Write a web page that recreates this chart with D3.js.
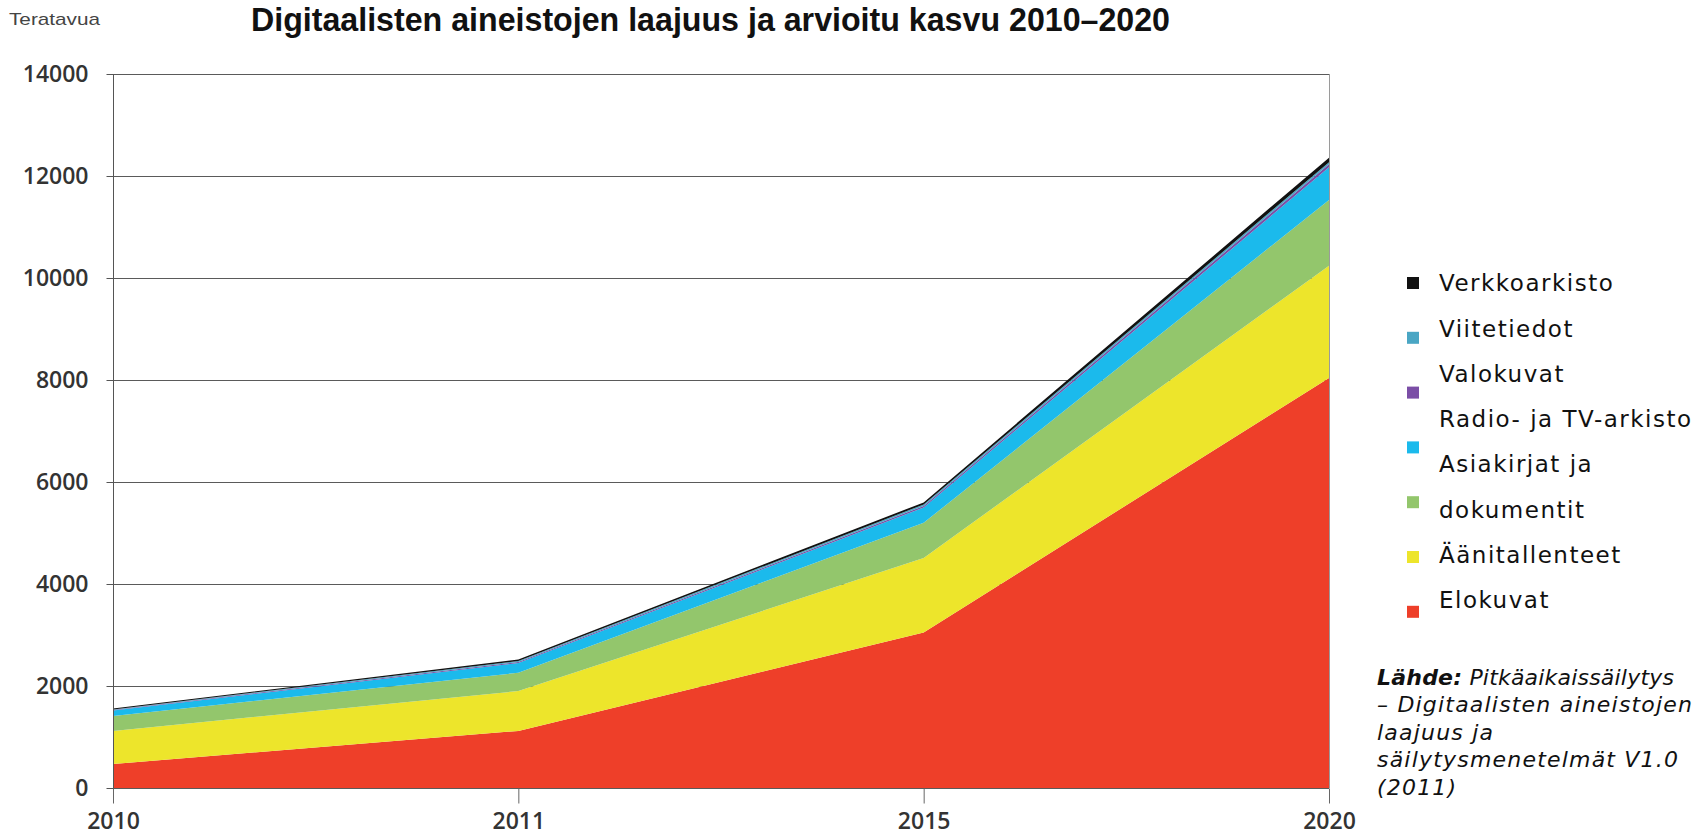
<!DOCTYPE html>
<html>
<head>
<meta charset="utf-8">
<script src="https://cdn.jsdelivr.net/npm/d3@7"></script>
<style>
  body { margin: 0; background: #fff; }
  svg { display: block; }
</style>
</head>
<body>
<div id="chart"></div>
<script>
// data (teratavua)
var years = ["2010", "2011", "2015", "2020"];
var elokuvat       = [470, 1120, 3050, 8040];
var aanitallenteet = [650, 780, 1460, 2200];
var asiakirjat     = [290, 360, 690, 1290];
var radioTv        = [110, 190, 300, 640];
var valokuvat      = [10, 20, 30, 60];
var viitetiedot    = [10, 20, 30, 40];
var verkkoarkisto  = [20, 30, 40, 90];

var yTicks = [0, 2000, 4000, 6000, 8000, 10000, 12000, 14000];

// stacking order, bottom to top
var seriesNames = ["Elokuvat", "Äänitallenteet", "Asiakirjat", "RadioTV", "Valokuvat", "Viitetiedot", "Verkkoarkisto"];
var seriesValues = [elokuvat, aanitallenteet, asiakirjat, radioTv, valokuvat, viitetiedot, verkkoarkisto];
var seriesColors = ["#ee3f29", "#ede52b", "#93c66c", "#1bbaec", "#7b4ea6", "#4aa6c4", "#111111"];

// legend text lines (top to bottom) - squares and text are not aligned in the original
var legendLines = ["Verkkoarkisto", "Viitetiedot", "Valokuvat", "Radio- ja TV-arkisto", "Asiakirjat ja", "dokumentit", "Äänitallenteet", "Elokuvat"];

var sourceLines = ["Pitkäaikaissäilytys", "– Digitaalisten aineistojen", "laajuus ja", "säilytysmenetelmät V1.0", "(2011)"];

function drawChart() {
  var W = 1696, H = 838;
  var pLeft = 113, pRight = 1329, pTop = 74, pBottom = 788;

  var svg = d3.select("#chart").append("svg")
    .attr("width", W)
    .attr("height", H);

  var x = d3.scalePoint()
    .domain(years)
    .range([pLeft, pRight]);

  var y = d3.scaleLinear()
    .domain([0, 14000])
    .range([pBottom, pTop]);

  // build table for the stack
  var table = years.map(function(yr, i) {
    var row = { year: yr };
    seriesNames.forEach(function(k, j) { row[k] = seriesValues[j][i]; });
    return row;
  });

  var layers = d3.stack().keys(seriesNames)(table);

  // gridlines
  svg.append("g")
    .selectAll("line")
    .data(yTicks)
    .enter().append("line")
    .attr("x1", pLeft)
    .attr("x2", pRight)
    .attr("y1", function(d) { return Math.round(y(d)) + 0.5; })
    .attr("y2", function(d) { return Math.round(y(d)) + 0.5; })
    .attr("stroke", "#5a5a5a")
    .attr("stroke-width", 1);

  // right border
  svg.append("line")
    .attr("x1", pRight + 0.5).attr("x2", pRight + 0.5)
    .attr("y1", pTop).attr("y2", pBottom)
    .attr("stroke", "#9a9a9a");

  var area = d3.area()
    .x(function(d) { return x(d.data.year); })
    .y0(function(d) { return y(d[0]); })
    .y1(function(d) { return y(d[1]); });

  svg.append("g")
    .selectAll("path")
    .data(layers)
    .enter().append("path")
    .attr("d", area)
    .attr("fill", function(d, i) { return seriesColors[i]; });

  // y axis
  var yAxis = svg.append("g")
    .attr("transform", "translate(" + (pLeft + 0.5) + ",0)")
    .call(d3.axisLeft(y).tickValues(yTicks).tickSize(7).tickPadding(18).tickFormat(d3.format("d")));
  yAxis.select(".domain").remove();
  yAxis.selectAll(".tick line").attr("stroke", "#555");
  yAxis.selectAll("text")
    .attr("fill", "#333")
    .style("font-family", "'Open Sans', 'Liberation Sans', sans-serif")
    .style("font-weight", "600")
    .style("font-size", "23px");

  svg.append("line")
    .attr("x1", pLeft + 0.5).attr("x2", pLeft + 0.5)
    .attr("y1", pTop).attr("y2", pBottom + 15)
    .attr("stroke", "#555");

  // x axis
  var xAxis = svg.append("g")
    .attr("transform", "translate(0," + (pBottom + 0.5) + ")")
    .call(d3.axisBottom(x).tickSize(15).tickPadding(9));
  xAxis.select(".domain").remove();
  xAxis.selectAll(".tick line").attr("stroke", "#666");
  xAxis.selectAll("text")
    .attr("fill", "#333")
    .style("font-family", "'Open Sans', 'Liberation Sans', sans-serif")
    .style("font-weight", "600")
    .style("font-size", "23px");

  // title
  svg.append("text")
    .attr("x", 251)
    .attr("y", 31)
    .attr("textLength", 919)
    .attr("lengthAdjust", "spacingAndGlyphs")
    .style("font-family", "'Liberation Sans Narrow', 'Liberation Sans', sans-serif")
    .style("font-weight", "bold")
    .style("font-size", "34px")
    .attr("fill", "#111")
    .text("Digitaalisten aineistojen laajuus ja arvioitu kasvu 2010–2020");

  svg.append("text")
    .attr("x", 9)
    .attr("y", 25)
    .attr("textLength", 91)
    .attr("lengthAdjust", "spacingAndGlyphs")
    .style("font-family", "'Liberation Sans Narrow', 'Liberation Sans', sans-serif")
    .style("font-size", "17px")
    .attr("fill", "#444")
    .text("Teratavua");

  // legend
  var legend = svg.append("g");
  var legendColors = seriesColors.slice().reverse();

  legend.selectAll("rect")
    .data(legendColors)
    .enter().append("rect")
    .attr("x", 1407)
    .attr("y", function(d, i) { return 283 + i * 54.8 - 6; })
    .attr("width", 12)
    .attr("height", 12)
    .attr("fill", function(d) { return d; });

  legend.selectAll("text")
    .data(legendLines)
    .enter().append("text")
    .attr("x", 1439)
    .attr("y", function(d, i) { return 283 + i * 45.3; })
    .attr("dy", "0.36em")
    .style("font-family", "'DejaVu Sans', Verdana, sans-serif")
    .style("font-size", "23px")
    .style("letter-spacing", "1.5px")
    .attr("fill", "#111")
    .text(function(d) { return d; });

  // source
  var src = svg.append("text")
    .style("font-family", "'DejaVu Sans', Verdana, sans-serif")
    .style("font-size", "22px")
    .style("font-style", "italic")
    .style("letter-spacing", "1.2px")
    .attr("fill", "#111");

  sourceLines.forEach(function(line, i) {
    var t = src.append("tspan")
      .attr("x", 1377)
      .attr("y", 677 + i * 27.5)
      .attr("dy", "0.36em");
    if (i == 0) {
      // first line is the longest, keep it inside the picture
      t.style("letter-spacing", "0.2px");
      t.append("tspan").style("font-weight", "bold").text("Lähde:");
      t.append("tspan").text(" " + line);
    } else {
      t.text(line);
    }
  });
}

drawChart();
</script>
</body>
</html>
